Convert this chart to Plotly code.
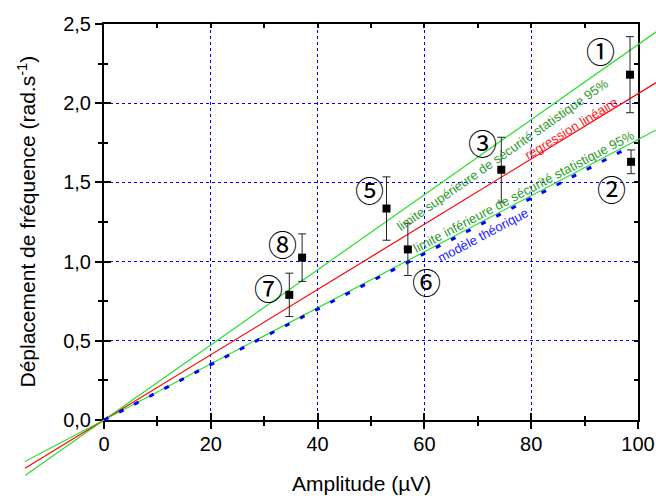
import plotly.graph_objects as go

# ---------------- data ----------------
point_x = [98.5, 98.7, 74.4, 52.9, 56.9, 34.7, 37.1]
point_y = [2.18, 1.63, 1.58, 1.335, 1.077, 0.79, 1.025]
point_err = [0.24, 0.075, 0.205, 0.20, 0.165, 0.137, 0.15]
point_labels = ["①", "②", "③", "⑤", "⑥", "⑦", "⑧"]
label_x = [92.9, 95.0, 70.9, 49.7, 60.3, 30.8, 33.5]
label_y = [2.338, 1.463, 1.757, 1.458, 0.878, 0.842, 1.115]

line_x = [-14.8, 103.4]           # extent of the fitted / confidence lines
slope_upper = 0.0237              # limite supérieure 95 %
slope_reg = 0.0206                # régression linéaire
slope_lower = 0.0177              # limite inférieure 95 %
model_x = [0.0, 98.2]
slope_model = 0.0175              # modèle théorique

x_ticks = [0, 20, 40, 60, 80, 100]
y_ticks = [0.0, 0.5, 1.0, 1.5, 2.0, 2.5]
x_minor = [10, 30, 50, 70, 90]
y_minor = [0.25, 0.75, 1.25, 1.75, 2.25]

x_title = "Amplitude (µV)"
y_title = "Déplacement de fréquence (rad.s<sup>-1</sup>)"

text_labels = ["limite supérieure de sécurité statistique 95%",
               "régression linéaire",
               "limite inférieure de sécurité statistique 95%",
               "modèle théorique"]
text_x = [74.7, 87.45, 78.65, 70.9]
text_y = [1.679, 1.840, 1.443, 1.162]
text_angle = [-35, -31.5, -27.7, -28]
text_color = ["#2e9a2e", "#ff1a1a", "#2e9a2e", "#1a1aff"]

# ---------------- geometry (figure pixels) ----------------
W, H = 656, 496
ML, MR, MT, MB = 20, 0, 20, 16
PL, PR, PT, PB = 104, 638, 24, 420        # main plot box
XMIN, XMAX, YMIN, YMAX = 0, 100, 0, 2.5
pw, ph = W - ML - MR, H - MT - MB
dom_x = [(PL - ML) / pw, (PR - ML) / pw]
dom_y = [(H - MB - PB) / ph, (H - MB - PT) / ph]
sx = (PR - PL) / (XMAX - XMIN)
sy = (PB - PT) / (YMAX - YMIN)
x2_range = [XMIN - (PL - ML) / sx, XMAX + (W - MR - PR) / sx]
y2_range = [YMIN - ((H - MB) - PB) / sy, YMAX + (PT - MT) / sy]

def paper_x(px):
    return (px - ML) / pw

def paper_y(py):
    return (H - MB - py) / ph

FONT = "Liberation Sans, Arial, sans-serif"
GREEN = "#2be02b"

fig = go.Figure()

def line_trace(xs, slope, color, width=1.2, dash="solid"):
    return go.Scatter(x=xs, y=[slope * v for v in xs], mode="lines",
                      line=dict(color=color, width=width, dash=dash),
                      xaxis="x2", yaxis="y2", showlegend=False, hoverinfo="skip")

fig.add_trace(line_trace(line_x, slope_upper, GREEN))
fig.add_trace(line_trace(line_x, slope_reg, "#ff0000"))
fig.add_trace(line_trace(line_x, slope_lower, GREEN))
fig.add_trace(line_trace(model_x, slope_model, "#0000ff", width=3, dash="5px,12px"))

fig.add_trace(go.Scatter(
    x=point_x, y=point_y, mode="markers",
    marker=dict(symbol="square", size=8, color="black"),
    error_y=dict(type="data", array=point_err, visible=True,
                 color="#222222", thickness=1, width=4),
    xaxis="x2", yaxis="y2", showlegend=False, hoverinfo="skip"))

# empty traces so the tick-only overlay axes are drawn
fig.add_trace(go.Scatter(x=[None], y=[None], xaxis="x3", yaxis="y3", showlegend=False))
fig.add_trace(go.Scatter(x=[None], y=[None], xaxis="x4", yaxis="y4", showlegend=False))
fig.add_trace(go.Scatter(x=[None], y=[None], xaxis="x", yaxis="y", showlegend=False))

tickfont = dict(family=FONT, size=20, color="black")
common_x = dict(domain=dom_x, range=[XMIN, XMAX], tickvals=x_ticks, zeroline=False,
                automargin=False)
common_y = dict(domain=dom_y, range=[YMIN, YMAX], tickvals=y_ticks, zeroline=False,
                automargin=False)
tk = dict(tickwidth=1.5, tickcolor="black")

fig.update_layout(
    width=W, height=H, margin=dict(l=ML, r=MR, t=MT, b=MB, autoexpand=False),
    paper_bgcolor="white", plot_bgcolor="rgba(0,0,0,0)",
    separators=", ",
    font=dict(family=FONT, color="black"),
    xaxis=dict(**common_x, anchor="y", showline=True, linecolor="black", linewidth=2,
               ticks="outside", ticklen=7, **tk,
               minor=dict(tickvals=x_minor, ticks="outside", ticklen=4, **tk,
                          showgrid=False),
               showgrid=True, gridcolor="#0000ff", gridwidth=1, griddash="dot",
               tickfont=tickfont, ticklabelstandoff=-2, ticklabeloverflow="allow"),
    yaxis=dict(**common_y, anchor="x", showline=True, linecolor="black", linewidth=2,
               ticks="outside", ticklen=7, **tk, tickformat=".1f",
               minor=dict(tickvals=y_minor, ticks="outside", ticklen=4, **tk,
                          showgrid=False),
               showgrid=True, gridcolor="#0000ff", gridwidth=1, griddash="dot",
               tickfont=tickfont, ticklabelstandoff=0),
    xaxis3=dict(**common_x, overlaying="x", anchor="y", side="bottom",
                ticks="inside", ticklen=7, **tk,
                minor=dict(tickvals=x_minor, ticks="inside", ticklen=4, **tk),
                showticklabels=False, showgrid=False, showline=False),
    yaxis3=dict(**common_y, overlaying="y", anchor="x", side="left",
                ticks="inside", ticklen=7, **tk,
                minor=dict(tickvals=y_minor, ticks="inside", ticklen=4, **tk),
                showticklabels=False, showgrid=False, showline=False),
    xaxis4=dict(**common_x, overlaying="x", anchor="y", side="top",
                ticks="inside", ticklen=4, **tk,
                minor=dict(tickvals=x_minor, ticks="inside", ticklen=4, **tk),
                showticklabels=False, showgrid=False, showline=True,
                linecolor="black", linewidth=2),
    yaxis4=dict(**common_y, overlaying="y", anchor="x", side="right",
                ticks="inside", ticklen=4, **tk,
                minor=dict(tickvals=y_minor, ticks="inside", ticklen=4, **tk),
                showticklabels=False, showgrid=False, showline=True,
                linecolor="black", linewidth=2),
    xaxis2=dict(domain=[0, 1], range=x2_range, anchor="y2", visible=False,
                automargin=False),
    yaxis2=dict(domain=[0, 1], range=y2_range, anchor="x2", visible=False,
                automargin=False),
)

# axis titles
fig.add_annotation(x=paper_x(361.5), y=paper_y(483), xref="paper", yref="paper",
                   text=x_title, showarrow=False, xanchor="center", yanchor="middle",
                   font=dict(family=FONT, size=21, color="black"))
fig.add_annotation(x=paper_x(26), y=paper_y(221.5), xref="paper", yref="paper",
                   text=y_title, showarrow=False, textangle=-90,
                   xanchor="center", yanchor="middle",
                   font=dict(family=FONT, size=21, color="black"))

for t, x, y in zip(point_labels, label_x, label_y):
    fig.add_annotation(x=x, y=y, xref="x2", yref="y2", text=t, showarrow=False,
                       font=dict(family="Noto Sans CJK JP", size=29, color="black"),
                       xanchor="center", yanchor="middle")

for t, x, y, a, c in zip(text_labels, text_x, text_y, text_angle, text_color):
    fig.add_annotation(x=x, y=y, xref="x2", yref="y2", text=t, showarrow=False,
                       textangle=a, font=dict(family=FONT, size=13, color=c),
                       xanchor="center", yanchor="middle")

fig.write_html(
    "out.html",
    config={"displayModeBar": False},
    post_script="document.body.style.margin='0';document.body.style.overflow='hidden';",
)
